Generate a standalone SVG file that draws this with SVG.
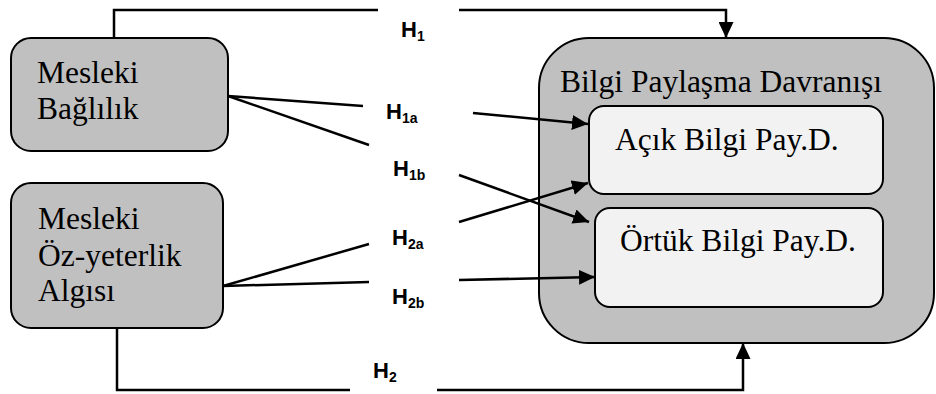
<svg xmlns="http://www.w3.org/2000/svg" width="936" height="394" viewBox="0 0 936 394">
  <style>
    .box { fill: #c0c0c0; stroke: #000; stroke-width: 2; }
    .inner { fill: #f2f2f2; stroke: #000; stroke-width: 2; }
    .t { font-family: "Liberation Serif", "Times New Roman", serif; font-size: 31.5px; fill: #000; }
    .h { font-family: "Liberation Sans", Arial, sans-serif; font-weight: bold; font-size: 22px; fill: #000; }
    .s { font-size: 14px; }
    .ln { fill: none; stroke: #000; stroke-width: 2.5; }
  </style>
  <defs>
    <marker id="arrow" markerUnits="userSpaceOnUse" markerWidth="17" markerHeight="15" refX="16" refY="7.5" orient="auto">
      <path d="M0,0 L16,7.5 L0,15 Z" fill="#000"/>
    </marker>
  </defs>

  <!-- outer construct -->
  <g id="bilgi-paylasma">
    <rect class="box" x="539" y="38" width="395" height="305" rx="50" ry="50"/>
    <text class="t" x="560" y="92">Bilgi Paylaşma Davranışı</text>
  </g>
  <g id="acik-bilgi">
    <rect class="inner" x="589" y="106" width="294" height="88" rx="15" ry="15"/>
    <text class="t" x="615" y="150">Açık Bilgi Pay.D.</text>
  </g>
  <g id="ortuk-bilgi">
    <rect class="inner" x="595" y="208" width="288" height="99" rx="15" ry="15"/>
    <text class="t" x="620" y="251">Örtük Bilgi Pay.D.</text>
  </g>

  <!-- predictors -->
  <g id="mesleki-baglilik">
    <rect class="box" x="11" y="38" width="217" height="113" rx="20" ry="20"/>
    <text class="t" x="37" y="83">Mesleki</text>
    <text class="t" x="37" y="119">Bağlılık</text>
  </g>
  <g id="mesleki-oz-yeterlik">
    <rect class="box" x="11" y="183" width="212" height="145" rx="20" ry="20"/>
    <text class="t" x="38" y="229">Mesleki</text>
    <text class="t" x="38" y="266">Öz-yeterlik</text>
    <text class="t" x="38" y="301">Algısı</text>
  </g>

  <!-- hypothesis paths -->
  <g id="connectors">
    <polyline class="ln" points="114,38 114,10 378,10"/>
    <polyline class="ln" points="459,10 726,10 726,38" marker-end="url(#arrow)"/>

    <line class="ln" x1="228" y1="96" x2="363" y2="106"/>
    <line class="ln" x1="473" y1="113" x2="588" y2="124" marker-end="url(#arrow)"/>

    <line class="ln" x1="228" y1="96" x2="369" y2="145"/>
    <line class="ln" x1="459" y1="175" x2="589" y2="222" marker-end="url(#arrow)"/>

    <line class="ln" x1="223" y1="286" x2="369" y2="244"/>
    <line class="ln" x1="459" y1="222" x2="588" y2="183" marker-end="url(#arrow)"/>

    <line class="ln" x1="223" y1="286" x2="369" y2="282"/>
    <line class="ln" x1="459" y1="280" x2="595" y2="277" marker-end="url(#arrow)"/>

    <polyline class="ln" points="117,328 117,390 350,390"/>
    <polyline class="ln" points="437,390 743,390 743,343" marker-end="url(#arrow)"/>
  </g>

  <!-- path labels -->
  <g id="labels">
    <text class="h" x="401" y="37">H<tspan class="s" dy="4">1</tspan></text>
    <text class="h" x="386" y="119">H<tspan class="s" dy="4">1a</tspan></text>
    <text class="h" x="393" y="176">H<tspan class="s" dy="4">1b</tspan></text>
    <text class="h" x="392" y="245">H<tspan class="s" dy="4">2a</tspan></text>
    <text class="h" x="392" y="304">H<tspan class="s" dy="4">2b</tspan></text>
    <text class="h" x="373" y="378">H<tspan class="s" dy="4">2</tspan></text>
  </g>
</svg>
